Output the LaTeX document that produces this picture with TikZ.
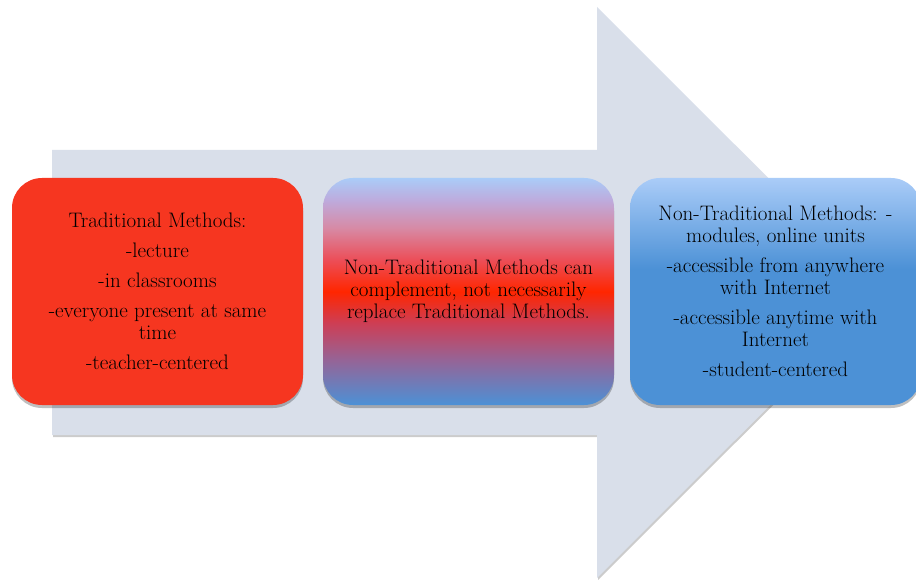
\documentclass[tikz,border=0pt]{standalone}
\usepackage{xcolor}
\usetikzlibrary{shadows}

\definecolor{arrowgray}{RGB}{217,223,234}
\definecolor{tradred}{RGB}{246,54,32}
\definecolor{skytop}{RGB}{170,204,248}
\definecolor{skyblue}{RGB}{76,145,214}
\definecolor{mixlilac}{RGB}{190,170,220}
\definecolor{mixpink}{RGB}{215,138,165}
\definecolor{mixrose}{RGB}{236,78,88}
\definecolor{mixred}{RGB}{255,38,0}
\definecolor{mixwine}{RGB}{205,62,85}
\definecolor{mixplum}{RGB}{150,100,150}

\pgfdeclareverticalshading{mixshade}{100bp}{color(0bp)=(skyblue); color(25bp)=(skyblue); color(35bp)=(mixplum); color(43bp)=(mixwine); color(50bp)=(mixred); color(57bp)=(mixrose); color(64bp)=(mixpink); color(70bp)=(mixlilac); color(75bp)=(skytop); color(100bp)=(skytop)}
\pgfdeclareverticalshading{blueshade}{100bp}{color(0bp)=(skyblue); color(25bp)=(skyblue); color(55bp)=(skyblue); color(75bp)=(skytop); color(100bp)=(skytop)}

\begin{document}
\begin{tikzpicture}[x=1pt,y=-1pt,
    methodbox/.style={rounded corners=30pt, minimum width=291pt, minimum height=227pt, inner sep=0pt, align=center,
        font=\fontsize{21}{22}\selectfont, drop shadow={shadow xshift=0pt, shadow yshift=-3pt, fill=black, opacity=0.25}}]
        \useasboundingbox (0,0) rectangle (916,580);
        % big arrow behind the boxes
        \fill[arrowgray, drop shadow={shadow xshift=1pt, shadow yshift=-2pt, fill=black, opacity=0.2}]
            (52,150) -- (597,150) -- (597,7) -- (883,292.5) -- (597,578) -- (597,435) -- (52,435) -- cycle;
        \node[methodbox, fill=tradred] (trad) at (157.5,291.5)
            {Traditional Methods:\\[8pt]-lecture\\[8pt]-in classrooms\\[8pt]-everyone present at same\\time\\[8pt]-teacher-centered};           % left
        \node[methodbox, shading=mixshade] (blend) at (468.5,291.5)
            {Non-Traditional Methods can\\complement, not necessarily\\replace Traditional Methods.};                                  % middle
        \node[methodbox, shading=blueshade] (nontrad) at (775.5,291.5)
            {Non-Traditional Methods: -\\modules, online units\\[8pt]-accessible from anywhere\\with Internet\\[8pt]-accessible anytime with\\Internet\\[8pt]-student-centered}; % right
    \end{tikzpicture}
\end{document}
